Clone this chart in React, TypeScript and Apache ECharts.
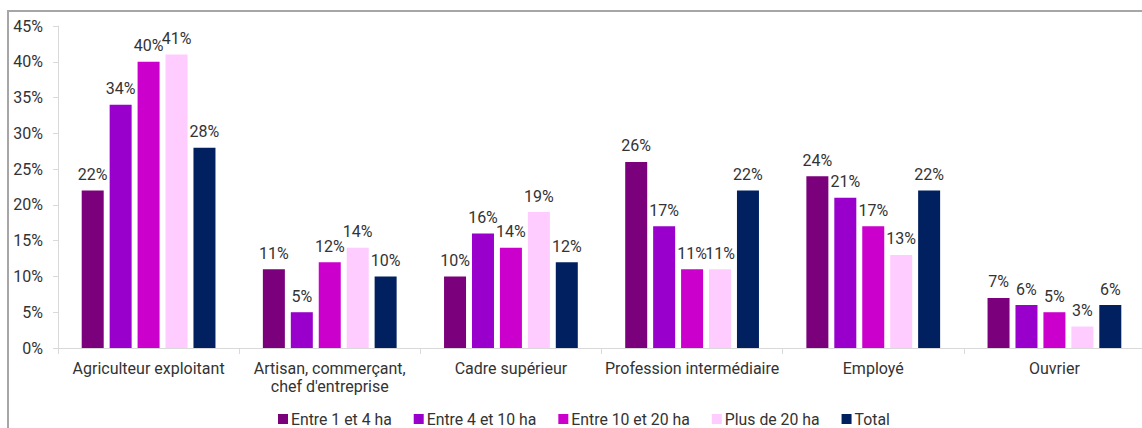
import React, { useEffect, useRef } from "react";
import * as echarts from "echarts";

const categories = [
  "Agriculteur exploitant",
  "Artisan, commerçant,\nchef d'entreprise",
  "Cadre supérieur",
  "Profession intermédiaire",
  "Employé",
  "Ouvrier",
];
const seriesNames = ["Entre 1 et 4 ha", "Entre 4 et 10 ha", "Entre 10 et 20 ha", "Plus de 20 ha", "Total"];
const entre1et4 = [22, 11, 10, 26, 24, 7];
const entre4et10 = [34, 5, 16, 17, 21, 6];
const entre10et20 = [40, 12, 14, 11, 17, 5];
const plus20 = [41, 14, 19, 11, 13, 3];
const total = [28, 10, 12, 22, 22, 6];
const colors = ["#7b007b", "#9900cc", "#cc00cc", "#ffccff", "#002060"];

export default function App() {
  const ref = useRef<HTMLDivElement>(null);
  useEffect(() => {
    if (!ref.current) return;
    const chart = echarts.init(ref.current, null, { renderer: "svg" });
    const data = [entre1et4, entre4et10, entre10et20, plus20, total];
    chart.setOption({
      animation: false,
      textStyle: { fontFamily: "Roboto" },
      grid: { left: 49, right: 9, top: 14, bottom: 84 },
      legend: {
        left: 264,
        top: 394,
        itemWidth: 10,
        itemHeight: 10,
        itemGap: 22,
        icon: "rect",
        textStyle: { fontSize: 15.8, color: "#333", fontFamily: "Roboto", padding: [0, 0, 0, -2] },
        data: seriesNames,
      },
      xAxis: {
        type: "category",
        data: categories,
        axisLine: { lineStyle: { color: "#d9d9d9" } },
        axisTick: { show: true, length: 6, lineStyle: { color: "#d9d9d9" } },
        axisLabel: { fontSize: 16, color: "#333", margin: 11, lineHeight: 18, interval: 0 },
      },
      yAxis: {
        type: "value",
        min: 0,
        max: 45,
        interval: 5,
        splitLine: { show: false },
        axisLine: { show: true, lineStyle: { color: "#d9d9d9" } },
        axisTick: { show: true, length: 5, lineStyle: { color: "#d9d9d9" } },
        axisLabel: { fontSize: 16, color: "#333", margin: 15, formatter: "{value}%" },
      },
      series: seriesNames.map((name, i) => ({
        name,
        type: "bar",
        data: data[i],
        barWidth: 22,
        barGap: "27%",
        itemStyle: { color: colors[i] },
        label: {
          show: true,
          position: "top",
          distance: 8,
          formatter: "{c}%",
          fontSize: 16,
          color: "#333",
          fontFamily: "Roboto",
        },
      })),
    });
    return () => chart.dispose();
  }, []);
  return (
    <div
      style={{
        position: "absolute",
        left: 7,
        top: 10,
        width: 1135,
        height: 418,
        boxSizing: "border-box",
        borderTop: "2px solid #a6a6a6",
        borderLeft: "2px solid #a6a6a6",
        overflow: "hidden",
        background: "#fff",
      }}
    >
      <div ref={ref} style={{ width: 1145, height: 420 }} />
    </div>
  );
}
